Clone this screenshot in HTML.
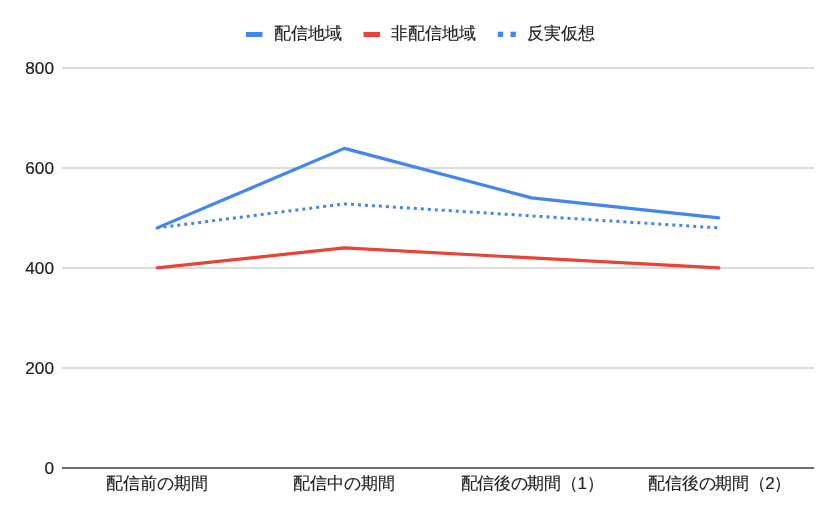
<!DOCTYPE html>
<html><head><meta charset="utf-8">
<style>
html,body{margin:0;padding:0;background:#fff;width:840px;height:519px;overflow:hidden;}
svg{display:block;will-change:transform;font-family:"Liberation Sans", sans-serif;}
</style></head>
<body>
<svg width="840" height="519" viewBox="0 0 840 519" xmlns="http://www.w3.org/2000/svg">
<rect width="840" height="519" fill="#fff"/>
<!-- gridlines -->
<g stroke="#d0d0d0" stroke-width="1.5">
<line x1="62" y1="67.9" x2="814.2" y2="67.9"/>
<line x1="62" y1="167.9" x2="814.2" y2="167.9"/>
<line x1="62" y1="267.9" x2="814.2" y2="267.9"/>
<line x1="62" y1="367.9" x2="814.2" y2="367.9"/>
</g>
<line x1="62" y1="467.9" x2="814.2" y2="467.9" stroke="#424242" stroke-width="1.5"/>
<!-- y labels -->
<g font-size="17.2" fill="#222" stroke="#222" stroke-width="0.2" text-anchor="end">
<text x="54" y="74">800</text>
<text x="54" y="174">600</text>
<text x="54" y="274">400</text>
<text x="54" y="374">200</text>
<text x="54" y="474">0</text>
</g>
<!-- x labels -->
<g font-size="17" fill="#222" stroke="#222" stroke-width="0.15" text-anchor="middle">
<text x="157" y="489.3">配信前の期間</text>
<text x="344" y="489.3">配信中の期間</text>
<text x="532" y="489.3" letter-spacing="-0.3">配信後の期間（1）</text>
<text x="719.8" y="489.3" letter-spacing="-0.3">配信後の期間（2）</text>
</g>
<!-- series -->
<polyline fill="none" stroke="#ea4335" stroke-width="3.2" stroke-linejoin="round" stroke-linecap="round" points="157.2,267.9 344.4,247.9 531.6,257.9 718.8,267.9"/>
<polyline fill="none" stroke="#4285f4" stroke-width="3" stroke-linejoin="miter" stroke-dasharray="3 4" stroke-dashoffset="0.7" points="157.2,227.9 344.4,203.9 531.6,215.9 718.8,227.9"/>
<polyline fill="none" stroke="#4285f4" stroke-width="3.2" stroke-linejoin="round" stroke-linecap="round" points="157.2,227.9 344.4,148.4 531.6,197.9 718.8,217.9"/>
<!-- legend -->
<rect x="246" y="32" width="16.5" height="5" fill="#4285f4"/>
<text x="273.5" y="39" font-size="17" fill="#222" stroke="#222" stroke-width="0.15">配信地域</text>
<rect x="363.5" y="32" width="16.5" height="5" fill="#ea4335"/>
<text x="391.3" y="39.2" font-size="17" fill="#222" stroke="#222" stroke-width="0.15">非配信地域</text>
<rect x="497.8" y="31.7" width="5.3" height="5.3" fill="#4285f4"/>
<rect x="510.5" y="31.7" width="5.3" height="5.3" fill="#4285f4"/>
<text x="527.2" y="39" font-size="17" fill="#222" stroke="#222" stroke-width="0.15">反実仮想</text>
</svg>
</body></html>
